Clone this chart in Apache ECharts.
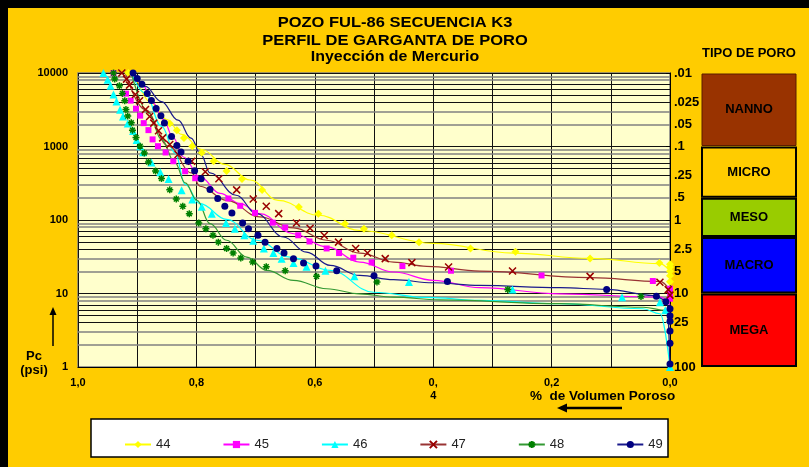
<!DOCTYPE html>
<html>
<head>
<meta charset="utf-8">
<script src="https://cdn.jsdelivr.net/npm/echarts@6/dist/echarts.min.js"></script>
<style>
  html, body { margin: 0; padding: 0; background: #FFCC00; }
  #main { width: 809px; height: 467px; }
</style>
</head>
<body>
<div id="main"></div>
<script>
// muestras: [fraccion de volumen poroso, Pc (psi)]
const samples = ['44', '45', '46', '47', '48', '49']

// puntos medidos
const pts44 = [[0.915,10000],[0.845,2060],[0.833,1670],[0.821,1310],[0.807,1010],[0.791,820],[0.771,630],[0.749,465],[0.723,360],[0.689,255],[0.627,150],[0.594,122],[0.549,89],[0.517,76],[0.470,62],[0.424,50],[0.337,41],[0.261,37],[0.135,30],[0.018,26],[0,25],[0,23],[0,20],[0,17.5],[0,14.5]]
const pts45 = [[0.940,10000],[0.919,5240],[0.911,4210],[0.902,3270],[0.895,2630],[0.889,2080],[0.881,1670],[0.874,1250],[0.865,1010],[0.852,830],[0.839,630],[0.819,460],[0.802,370],[0.746,196],[0.726,156],[0.701,125],[0.671,92],[0.650,79],[0.628,62],[0.609,51],[0.580,41],[0.559,35.5],[0.535,30.7],[0.504,26.5],[0.452,23.6],[0.370,20.4],[0.217,17.6],[0.029,14.8],[0,11.6],[0,10],[0,8.5]]
const pts46 = [[0.957,10000],[0.950,8110],[0.945,6730],[0.940,5110],[0.935,4100],[0.929,3160],[0.924,2560],[0.916,2060],[0.907,1620],[0.901,1230],[0.895,1010],[0.890,836],[0.876,607],[0.861,447],[0.847,361],[0.825,254],[0.807,190],[0.791,152],[0.774,122],[0.750,91],[0.735,76],[0.719,62],[0.704,52],[0.686,41],[0.670,35.5],[0.656,29.8],[0.636,26.1],[0.614,23.2],[0.582,20.4],[0.533,17.1],[0.441,14.3],[0.266,11.3],[0.081,8.9],[0.017,7.6],[0.008,5.9],[0,4.5],[0,1]]
const pts47 = [[0.926,10000],[0.918,8260],[0.913,6840],[0.903,5110],[0.896,4180],[0.886,3190],[0.879,2560],[0.872,2080],[0.864,1640],[0.857,1310],[0.845,1065],[0.831,778],[0.808,631],[0.785,454],[0.762,364],[0.732,257],[0.704,193],[0.682,154],[0.661,122],[0.631,91],[0.608,77],[0.584,61.5],[0.560,50],[0.531,41],[0.511,35.5],[0.481,29.8],[0.436,26.3],[0.374,22.9],[0.266,20.2],[0.135,17.1],[0.017,14.2],[0.003,11.3],[0,9.5]]
const pts48 = [[0.940,10000],[0.938,8260],[0.930,6700],[0.925,5280],[0.921,4180],[0.919,3190],[0.916,2590],[0.910,2100],[0.908,1670],[0.902,1330],[0.895,1010],[0.888,818],[0.881,617],[0.869,465],[0.859,366],[0.845,257],[0.834,193],[0.823,154],[0.812,122],[0.796,91],[0.784,76],[0.772,62],[0.763,50],[0.749,41],[0.738,35.5],[0.725,30.5],[0.705,26.8],[0.682,23.2],[0.650,20.4],[0.597,17.1],[0.495,14.3],[0.274,11.3],[0.049,9.1]]
const pts49 = [[0.907,10000],[0.900,8390],[0.892,7020],[0.883,5280],[0.876,4240],[0.868,3300],[0.860,2620],[0.854,2080],[0.842,1370],[0.833,1035],[0.826,841],[0.814,631],[0.803,468],[0.792,364],[0.777,259],[0.764,196],[0.752,154],[0.740,125],[0.722,91],[0.712,76],[0.696,62],[0.684,50],[0.664,41],[0.652,35.5],[0.636,29.8],[0.619,26.1],[0.598,23.6],[0.563,20.4],[0.500,17.5],[0.376,14.6],[0.107,11.3],[0.023,9.2],[0.007,7.7],[0,6.2],[0,5],[0,4.2],[0,3.1],[0,2.1],[0,1.1]]

// curvas suavizadas (lineas del grafico)
const crv44 = [[0.905,10000],[0.876,3930],[0.850,2330],[0.825,1460],[0.791,910],[0.752,570],[0.709,350],[0.662,185],[0.594,116],[0.524,72],[0.400,48],[0.265,35.5],[0.135,30],[0.017,25.5],[0,20]]
const crv45 = [[0.910,10000],[0.893,7350],[0.873,3930],[0.856,2330],[0.839,1310],[0.822,720],[0.794,385],[0.760,230],[0.726,167],[0.693,122],[0.636,65],[0.580,43],[0.524,26.8],[0.467,19.6],[0.400,15.1],[0.321,12],[0.186,9.9],[0.017,8.9],[0,7]]
const crv46 = [[0.910,10000],[0.887,5370],[0.859,1890],[0.836,818],[0.819,304],[0.794,167],[0.749,102],[0.698,53],[0.642,31.3],[0.574,20.6],[0.501,10.4],[0.411,8.85],[0.321,8.05],[0.186,7.26],[0.046,6.2],[0.017,5.3],[0,1]]
const crv47 = [[0.920,10000],[0.887,3190],[0.847,1010],[0.808,437],[0.794,288],[0.749,185],[0.693,110],[0.636,78],[0.580,53],[0.524,35.5],[0.467,26.8],[0.411,23.4],[0.321,20.2],[0.135,16.4],[0.017,14.6],[0,11]]
const crv48 = [[0.910,10000],[0.881,2870],[0.859,1250],[0.836,598],[0.819,319],[0.799,185],[0.777,89],[0.749,53],[0.715,31.3],[0.681,20.6],[0.636,15.1],[0.580,11.6],[0.524,9.9],[0.467,8.9],[0.389,8.2],[0.186,7.26],[0.045,6.5],[0.006,5.9],[0,4]]
const crv49 = [[0.905,10000],[0.887,6630],[0.859,4090],[0.831,2280],[0.809,1300],[0.792,761],[0.777,437],[0.733,217],[0.698,122],[0.653,58.7],[0.614,36.6],[0.574,24.1],[0.524,17.6],[0.467,15.4],[0.400,14],[0.321,12.9],[0.186,12],[0.107,11.4],[0.028,9.4],[0.006,8.05],[0,1]]

// eje derecho: radio de garganta (micrones) = 100 / Pc
const radiusTicks = [0.01, 0.025, 0.05, 0.1, 0.25, 0.5, 1, 2.5, 5, 10, 25, 100]
const radiusLabels = ['.01', '.025', '.05', '.1', '.25', '.5', '1', '2.5', '5', '10', '25', '100']

// tipos de poro y limites de radio (micrones)
const poreTypes = ['NANNO', 'MICRO', 'MESO', 'MACRO', 'MEGA']
const poreLimits = [0.01, 0.1, 0.5, 1.7, 10, 100]

const points = [pts44, pts45, pts46, pts47, pts48, pts49]
const curves = [crv44, crv45, crv46, crv47, crv48, crv49]

const markColors = ['#FFFF00', '#FF00FF', '#00FFFF', '#990000', '#008000', '#000080']
const lineColors = ['#FFFF00', '#FF00FF', '#00FFFF', '#993333', '#339933', '#1a1a8c']
const symbols = ['diamond', 'rect', 'triangle',
  'path://M0,0L10,10M10,0L0,10',
  'path://M5,0L5,10M0,5L10,5M1.5,1.5L8.5,8.5M8.5,1.5L1.5,8.5',
  'circle']
const symSizes = [8, 6, 8, 7, 7, 7]
const borderW = [0, 0, 0, 1.5, 1.5, 0]
const poreColors = ['#993300', '#FFCC00', '#99CC00', '#0000FF', '#FF0000']

const FONT = '"Liberation Sans", Arial, sans-serif'

const chart = echarts.init(document.getElementById('main'))

// lineas menores de la escala log (2..9 por decada)
const minorLines = []
;[1, 10, 100, 1000].forEach(d => {
  for (let m = 2; m <= 9; m++) {
    const gray = m <= 3 || m >= 8
    minorLines.push({
      yAxis: d * m,
      lineStyle: { color: gray ? '#808080' : '#111', width: gray ? 1.5 : 1, type: 'solid' }
    })
  }
})

const series = []
samples.forEach((s, i) => {
  series.push({
    name: s,
    type: 'line',
    data: curves[i],
    smooth: 0.4,
    smoothMonotone: 'x',
    showSymbol: false,
    symbol: symbols[i],
    symbolSize: symSizes[i],
    lineStyle: { color: lineColors[i], width: 1.2 },
    itemStyle: { color: markColors[i], borderColor: markColors[i], borderWidth: borderW[i] },
    silent: true,
    z: 3
  })
})
samples.forEach((s, i) => {
  series.push({
    name: s,
    type: 'scatter',
    data: points[i],
    symbol: symbols[i],
    symbolSize: symSizes[i],
    itemStyle: { color: markColors[i], borderColor: markColors[i], borderWidth: borderW[i], opacity: 1 },
    silent: true,
    z: 4
  })
})
series.push({
  name: 'grid',
  type: 'line',
  data: [],
  silent: true,
  markLine: {
    silent: true,
    symbol: ['none', 'none'],
    label: { show: false },
    z: 1,
    data: minorLines
  }
})

const option = {
  animation: false,
  backgroundColor: '#FFCC00',
  textStyle: { fontFamily: FONT },
  grid: {
    left: 78, top: 73, width: 592, height: 294,
    show: true, backgroundColor: '#FFFFCC', borderColor: '#808080', borderWidth: 1.5
  },
  legend: {
    data: samples,
    left: 119, top: 433,
    itemWidth: 26, itemHeight: 9, itemGap: 52,
    textStyle: { fontSize: 13, color: '#222', fontFamily: FONT },
    selectedMode: false
  },
  xAxis: {
    type: 'value', min: 0, max: 1, interval: 0.1, inverse: true,
    axisLine: { show: true, lineStyle: { color: '#000', width: 1 } },
    axisTick: { show: false },
    splitLine: { show: true, lineStyle: { color: '#111', width: 1 } },
    axisLabel: {
      interval: 0, margin: 9, fontSize: 11, fontWeight: 'bold', color: '#000', lineHeight: 13,
      showMinLabel: true, showMaxLabel: true,
      formatter: v => {
        const k = Math.round(v * 10)
        if (k % 2) return ''
        if (k === 4) return '0,\n4'
        return (k / 10).toFixed(1).replace('.', ',')
      }
    }
  },
  yAxis: {
    type: 'log', logBase: 10, min: 1, max: 10000,
    axisLine: { show: true, lineStyle: { color: '#000', width: 1 } },
    axisTick: { show: true, length: 4, lineStyle: { color: '#000' } },
    splitLine: { show: true, lineStyle: { color: '#111', width: 1 } },
    axisLabel: { margin: 10, fontSize: 11, fontWeight: 'bold', color: '#000', formatter: v => String(Math.round(v)) }
  },
  series: series
}
chart.setOption(option)

// elementos fijos: marco, titulos, eje de radio, tipos de poro, leyenda
const yPix = v => chart.convertToPixel({ yAxisIndex: 0 }, v)
const boldText = (x, y, text, size, align, extra) => Object.assign({
  type: 'text', x: x, y: y, z: 10, silent: true,
  style: { text: text, font: 'bold ' + size + 'px ' + FONT, fill: '#000', align: align || 'left', verticalAlign: 'middle' }
}, extra || {})

const graphics = [
  { type: 'rect', shape: { x: 0, y: 0, width: 809, height: 8 }, style: { fill: '#000' }, z: 10, silent: true },
  { type: 'rect', shape: { x: 0, y: 0, width: 8, height: 467 }, style: { fill: '#000' }, z: 10, silent: true },
  boldText(395, 23, 'POZO FUL-86 SECUENCIA K3', 15, 'center', { scaleX: 1.1 }),
  boldText(395, 41, 'PERFIL DE GARGANTA DE PORO', 15, 'center', { scaleX: 1.1 }),
  boldText(395, 57, 'Inyección de Mercurio', 14.5, 'center', { scaleX: 1.1 }),
  boldText(749, 53, 'TIPO DE PORO', 13, 'center'),
  boldText(34, 356, 'Pc', 13, 'center'),
  boldText(34, 370, '(psi)', 13, 'center'),
  { type: 'line', shape: { x1: 53, y1: 346, x2: 53, y2: 313 }, style: { stroke: '#000', lineWidth: 1.5 }, z: 10, silent: true },
  { type: 'polygon', shape: { points: [[53, 307], [49.5, 315], [56.5, 315]] }, style: { fill: '#000' }, z: 10, silent: true },
  boldText(530, 396, '%  de Volumen Poroso', 13.5, 'left'),
  { type: 'line', shape: { x1: 566, y1: 408, x2: 622, y2: 408 }, style: { stroke: '#000', lineWidth: 2.5 }, z: 10, silent: true },
  { type: 'polygon', shape: { points: [[557, 408], [567, 403.5], [567, 412.5]] }, style: { fill: '#000' }, z: 10, silent: true },
  { type: 'rect', shape: { x: 91, y: 419, width: 577, height: 38 }, style: { fill: '#fff', stroke: '#000', lineWidth: 1.5 }, z: 0, silent: true }
]

radiusTicks.forEach((r, i) => {
  graphics.push(boldText(674, yPix(100 / r), radiusLabels[i], 13, 'left'))
})

poreTypes.forEach((name, i) => {
  const y1 = yPix(100 / poreLimits[i])
  const y2 = yPix(100 / poreLimits[i + 1])
  graphics.push({
    type: 'rect', z: 5, silent: true,
    shape: { x: 702, y: y1 + 1, width: 94, height: y2 - y1 - 2 },
    style: { fill: poreColors[i], stroke: i === 0 ? '#5a1e00' : '#000', lineWidth: i === 0 ? 1 : 2 }
  })
  graphics.push(boldText(749, (y1 + y2) / 2, name, 13, 'center'))
})

chart.setOption({ graphic: graphics })
</script>
</body>
</html>
